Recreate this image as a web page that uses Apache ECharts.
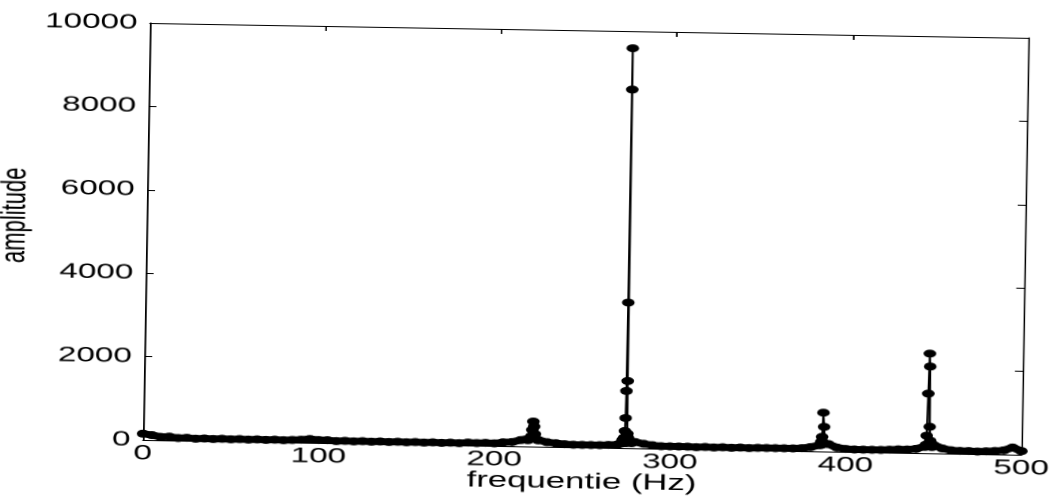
<!DOCTYPE html>
<html>
<head>
<meta charset="utf-8">
<script src="https://cdn.jsdelivr.net/npm/echarts@6/dist/echarts.min.js"></script>
<style>
  html, body { margin: 0; padding: 0; background: #fff; overflow: hidden; }
  /* the scan is stretched horizontally and turned a little, so the chart is too */
  #main {
    position: absolute; left: 55px; top: 0;
    width: 700px; height: 500px;
    transform-origin: 95px 23px;
    transform: rotate(0.97deg) scaleX(1.58);
  }
</style>
</head>
<body>
<div id="main"></div>
<script>
// x ticks and y ticks
const freqTicks = [0, 100, 200, 300, 400, 500];
const ampTicks = [0, 2000, 4000, 6000, 8000, 10000];

// background spectrum (noisy band near zero), one value every 5 Hz from 0 to 500 Hz
const baseStep = 5;
const baseAmp = [
  150,
  120, 80, 90, 60, 70, 50, 60, 50, 60, 50,
  60, 50, 60, 50, 60, 50, 60, 70, 90, 70,
  70, 50, 60, 50, 60, 50, 60, 50, 60, 50,
  60, 50, 60, 50, 60, 50, 70, 60, 70, 60,
  90, 100, 150, 200, 160, 110, 90, 70, 60, 60,
  60, 60, 70, 80, 120, 150, 110, 80, 60, 60,
  60, 60, 50, 60, 50, 60, 50, 60, 50, 60,
  60, 60, 60, 60, 70, 100, 150, 180, 100, 70,
  60, 60, 60, 60, 70, 80, 80, 100, 160, 200,
  120, 80, 70, 70, 60, 70, 80, 100, 170, 90
];

// peaks, finely sampled
const peak1Freq = [219, 220.5, 221, 221.5, 222, 222.5, 223, 223.5, 225];
const peak1Amp  = [150, 200, 250, 400, 600, 480, 300, 180, 150];

const peak2Freq = [272, 273, 273.8, 274.2, 274.5, 274.7, 274.9, 275, 275.1, 275.3, 275.6, 276, 277, 278];
const peak2Amp  = [120, 200, 250, 410, 720, 1370, 3490, 9590, 8600, 1610, 350, 250, 180, 120];

const peak3Freq = [385.5, 386, 386.5, 387, 387.5, 388];
const peak3Amp  = [150, 230, 350, 930, 590, 200];

const peak4Freq = [445, 445.5, 446, 446.5, 447, 447.3, 447.6, 448, 449];
const peak4Amp  = [150, 200, 420, 1430, 2390, 2080, 635, 300, 150];

const basePoints = baseAmp.map((a, i) => [i * baseStep, a]);
const peakSeries = [[peak1Freq, peak1Amp], [peak2Freq, peak2Amp], [peak3Freq, peak3Amp], [peak4Freq, peak4Amp]]
  .map(([f, a]) => f.map((x, i) => [x, a[i]]));

const font = "'Liberation Sans', Arial, Helvetica, sans-serif";

var chartDom = document.getElementById('main');
var myChart = echarts.init(chartDom, null, { devicePixelRatio: 2 });

const axisCommon = {
  axisLine: { show: true, onZero: false, lineStyle: { color: '#000', width: 1 } },
  axisTick: { show: true, inside: true, length: 5, lineStyle: { color: '#000', width: 1 } },
  splitLine: { show: false }
};

const lineCommon = {
  type: 'line',
  xAxisIndex: 0,
  yAxisIndex: 0,
  symbol: 'circle',
  symbolSize: 8,
  showAllSymbol: true,
  itemStyle: { color: '#000' },
  clip: false
};

var option = {
  animation: false,
  backgroundColor: '#fff',
  grid: { left: 95, top: 23, width: 556, height: 417, containLabel: false, outerBoundsMode: 'none' },
  xAxis: [
    Object.assign({}, axisCommon, {
      type: 'value', position: 'bottom',
      min: freqTicks[0], max: freqTicks[freqTicks.length - 1], interval: 100,
      name: 'frequentie (Hz)', nameLocation: 'middle', nameGap: 24, nameMoveOverlap: false,
      nameTextStyle: { color: '#000', fontSize: 22, fontFamily: font, verticalAlign: 'top' },
      axisLabel: { color: '#000', fontSize: 21, fontFamily: font, margin: 3, formatter: (v) => String(v) }
    }),
    Object.assign({}, axisCommon, {
      type: 'value', position: 'top',
      min: freqTicks[0], max: freqTicks[freqTicks.length - 1], interval: 100,
      axisLabel: { show: false }
    })
  ],
  yAxis: [
    Object.assign({}, axisCommon, {
      type: 'value', position: 'left',
      min: ampTicks[0], max: ampTicks[ampTicks.length - 1], interval: 2000,
      name: 'amplitude', nameLocation: 'middle', nameGap: 72, nameMoveOverlap: false,
      nameTextStyle: { color: '#000', fontSize: 22, fontFamily: font, padding: [0, 0, 0, 28] },
      axisLabel: { color: '#000', fontSize: 21, fontFamily: font, margin: 8, formatter: (v) => String(v) }
    }),
    Object.assign({}, axisCommon, {
      type: 'value', position: 'right',
      min: ampTicks[0], max: ampTicks[ampTicks.length - 1], interval: 2000,
      axisLabel: { show: false }
    })
  ],
  series: [
    Object.assign({}, lineCommon, {
      name: 'baseline',
      data: basePoints,
      lineStyle: { color: '#000', width: 7 }
    })
  ].concat(peakSeries.map((pts, k) => Object.assign({}, lineCommon, {
    name: 'peak' + (k + 1),
    data: pts,
    lineStyle: { color: '#000', width: 1.3 }
  })))
};

option && myChart.setOption(option);
</script>
</body>
</html>
